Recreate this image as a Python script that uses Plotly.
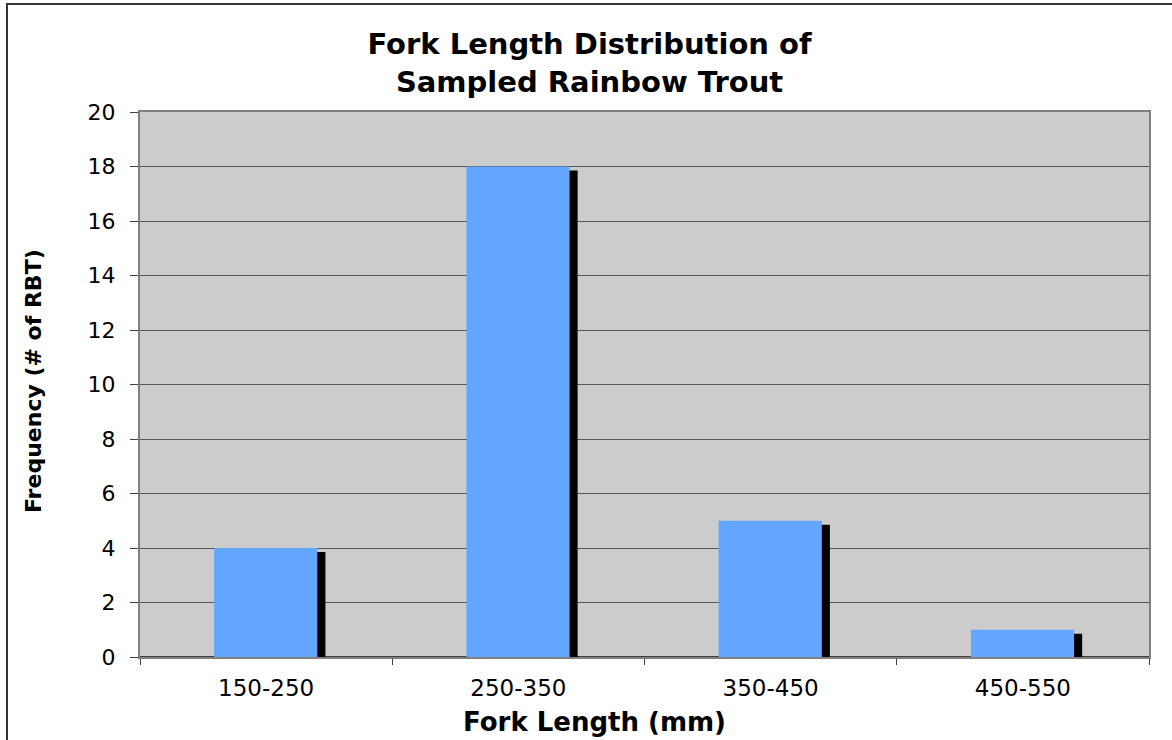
import plotly.graph_objects as go

categories = ["150-250", "250-350", "350-450", "450-550"]
frequency = [4, 18, 5, 1]
y_ticks = [0, 2, 4, 6, 8, 10, 12, 14, 16, 18, 20]

title_text = "Fork Length Distribution of<br>Sampled Rainbow Trout"
x_title = "Fork Length (mm)"
y_title = "Frequency (# of RBT)"

BAR_COLOR = "#63A6FF"
SHADOW_COLOR = "#000000"
BG_GRAY = "#CCCCCC"
FONT = "DejaVu Sans, Verdana, sans-serif"

W, H = 1172, 740
L, R, T, B = 140, 23, 112, 83
plot_w = W - L - R
plot_h = H - T - B

bar_width = 0.409
bar_offset = -0.206
shadow_shift = 0.032
shadow_drop = 0.147  # drop of shadow in value units

fig = go.Figure()
# shadow (behind)
fig.add_trace(go.Bar(
    x=categories,
    y=[v - shadow_drop for v in frequency],
    width=bar_width,
    offset=bar_offset + shadow_shift,
    marker=dict(color=SHADOW_COLOR, line=dict(width=0)),
    showlegend=False,
    hoverinfo="skip",
))
# main bars
fig.add_trace(go.Bar(
    x=categories,
    y=frequency,
    width=bar_width,
    offset=bar_offset,
    marker=dict(color=BAR_COLOR, line=dict(width=0)),
    showlegend=False,
    name="Frequency",
))

def px_to_paper_x(px):
    return (px - L) / plot_w

def px_to_paper_y(py):
    return (H - B - py) / plot_h

fig.update_layout(
    width=W, height=H,
    margin=dict(l=L, r=R, t=T, b=B, autoexpand=False),
    paper_bgcolor="white",
    plot_bgcolor=BG_GRAY,
    barmode="overlay",
    font=dict(family=FONT, color="black"),
    title=dict(
        text=title_text,
        x=0.503, xanchor="center",
        y=1 - 54 / H, yanchor="middle",
        font=dict(size=29, family=FONT, weight="bold", color="black"),
    ),
    xaxis=dict(
        type="category",
        range=[-0.5, 3.5],
        showline=True, mirror=True, linecolor="#808080", linewidth=2,
        ticks="outside", tickson="boundaries", ticklen=6, tickcolor="#404040", tickwidth=1,
        tickfont=dict(size=23, family=FONT, color="black"),
        ticklabelstandoff=9,
        showgrid=False,
    ),
    yaxis=dict(
        range=[0, 20],
        tickvals=y_ticks,
        showline=True, mirror=True, linecolor="#808080", linewidth=2,
        ticks="outside", ticklen=8, tickcolor="#404040", tickwidth=1,
        tickfont=dict(size=22, family=FONT, color="black"),
        ticklabelstandoff=10,
        showgrid=True, gridcolor="#555555", gridwidth=1,
        zeroline=True, zerolinecolor="#404040", zerolinewidth=2,
    ),
    annotations=[
        dict(text=x_title, xref="paper", yref="paper",
             x=px_to_paper_x(594), y=px_to_paper_y(722),
             xanchor="center", yanchor="middle", showarrow=False,
             font=dict(size=26, family=FONT, weight="bold", color="black")),
        dict(text=y_title, xref="paper", yref="paper",
             x=px_to_paper_x(33), y=px_to_paper_y(381),
             xanchor="center", yanchor="middle", showarrow=False, textangle=-90,
             font=dict(size=22, family=FONT, weight="bold", color="black")),
    ],
    shapes=[
        dict(type="rect", xref="paper", yref="paper",
             x0=px_to_paper_x(7), x1=px_to_paper_x(W + 20),
             y0=px_to_paper_y(H + 20), y1=px_to_paper_y(4),
             line=dict(color="#333333", width=2), fillcolor="rgba(0,0,0,0)", layer="below"),
    ],
)

fig.write_html(
    "out.html",
    config={"displayModeBar": False},
    post_script="document.body.style.margin='0';document.body.style.overflow='hidden';",
)
